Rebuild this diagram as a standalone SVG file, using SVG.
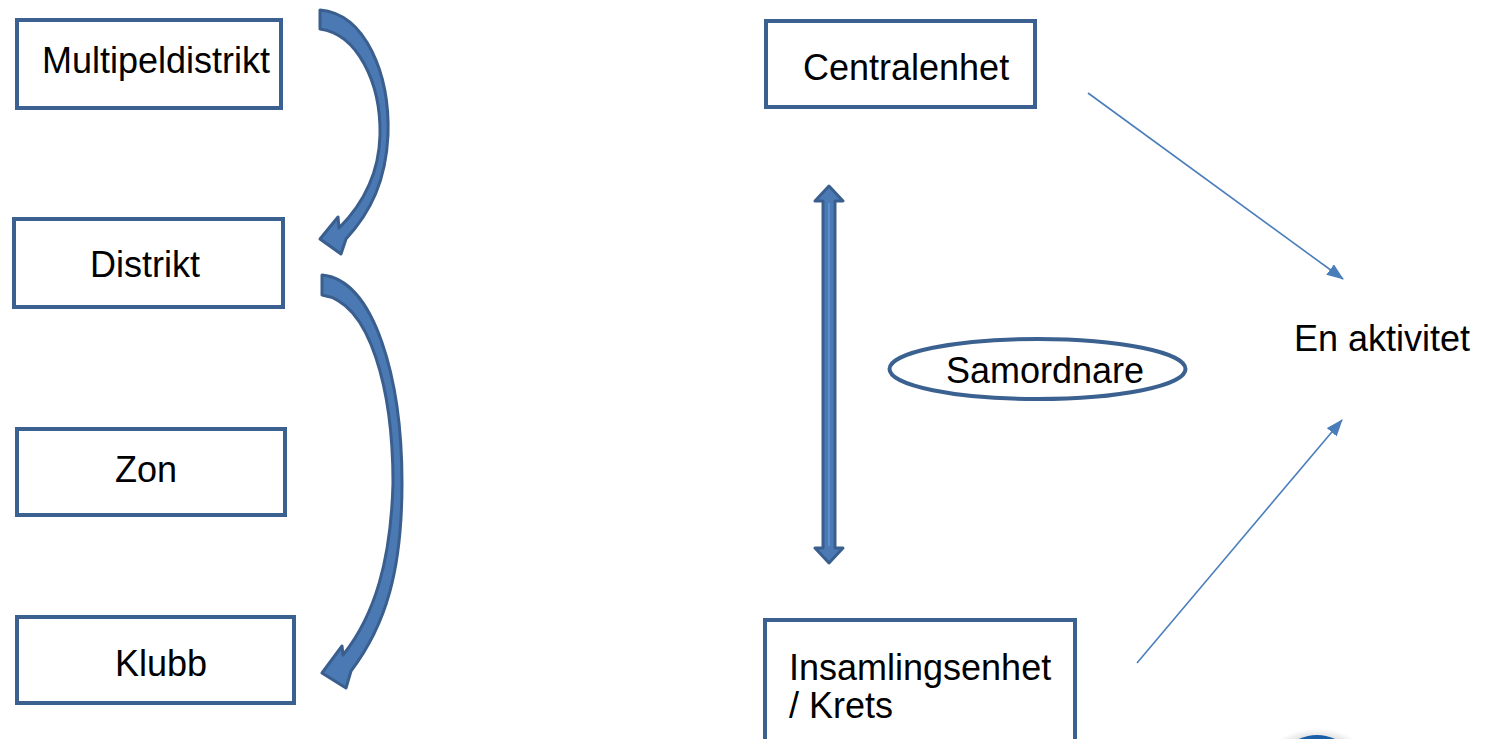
<svg xmlns="http://www.w3.org/2000/svg" width="1488" height="739" viewBox="0 0 1488 739">
<style>
.box{fill:#fff;stroke:#3b6190;stroke-width:4}
.lbl{font-family:"Liberation Sans",Arial,sans-serif;font-size:36px;fill:#000}
.curve{fill:#4a79b4;stroke:#3a5f8e;stroke-width:3;stroke-linejoin:round}
.thin{stroke:#4a7ebb;stroke-width:1.6;fill:none;marker-end:url(#ah)}
</style>
<defs>
<marker id="ah" markerWidth="17" markerHeight="13" refX="16" refY="6.5" orient="auto" markerUnits="userSpaceOnUse">
<path d="M0,0 L17,6.5 L0,13 Z" fill="#4a7ebb"/>
</marker>
<radialGradient id="glow" cx="0.5" cy="0.5" r="0.5">
<stop offset="0.6" stop-color="#555" stop-opacity="0.6"/>
<stop offset="1" stop-color="#999" stop-opacity="0"/>
</radialGradient>
</defs>
<rect width="1488" height="739" fill="#fff"/>
<g id="multipeldistrikt"><rect class="box" x="17" y="20" width="264" height="88"/><text class="lbl" x="42" y="73">Multipeldistrikt</text></g>
<g id="distrikt"><rect class="box" x="14" y="219" width="269" height="88"/><text class="lbl" x="90" y="277">Distrikt</text></g>
<g id="zon"><rect class="box" x="17" y="429" width="268" height="86"/><text class="lbl" x="115" y="482">Zon</text></g>
<g id="klubb"><rect class="box" x="17" y="617" width="277" height="86"/><text class="lbl" x="115" y="676">Klubb</text></g>
<g id="centralenhet"><rect class="box" x="766" y="21" width="269" height="86"/><text class="lbl" x="803" y="80">Centralenhet</text></g>
<g id="samordnare"><ellipse cx="1037.5" cy="369" rx="148" ry="30" fill="#fff" stroke="#3b6190" stroke-width="4"/><text class="lbl" x="946" y="383">Samordnare</text></g>
<g id="insamlingsenhet"><rect class="box" x="765" y="620" width="310" height="140"/><text class="lbl" x="789" y="680">Insamlingsenhet</text><text class="lbl" x="789" y="718">/ Krets</text></g>
<g id="en-aktivitet"><text class="lbl" x="1294" y="351">En aktivitet</text></g>
<g id="badge"><ellipse cx="1317" cy="780" rx="62" ry="52" fill="url(#glow)"/><ellipse cx="1317" cy="785" rx="46" ry="50" fill="#1a5ea8"/></g>
<g id="connectors">
<path class="curve" d="M320,10 C366,14 390,75 388,135 C386,180 371,212 346,239 L341,254 L320,239 L338,217 L339,228 C362,205 379,175 380,135 C381,82 357,34 320,29 Z"/>
<path class="curve" d="M322,275 C375,280 402,380 402,483 C402,570 386,625 351,671 L346,688 L322,673 L342,646 L343,655 C375,615 391,560 393,483 C393,392 371,302 322,295 Z"/>
<path class="curve" d="M829,186 L843,201 L835,201 L835,548 L843,548 L829,563 L815,548 L823,548 L823,201 L815,201 Z"/>
<line x1="829" y1="203" x2="829" y2="546" stroke="#5b8fd0" stroke-width="2"/>
<line class="thin" x1="1088" y1="93" x2="1343" y2="279"/>
<line class="thin" x1="1137" y1="663" x2="1342" y2="420"/>
</g>
</svg>
